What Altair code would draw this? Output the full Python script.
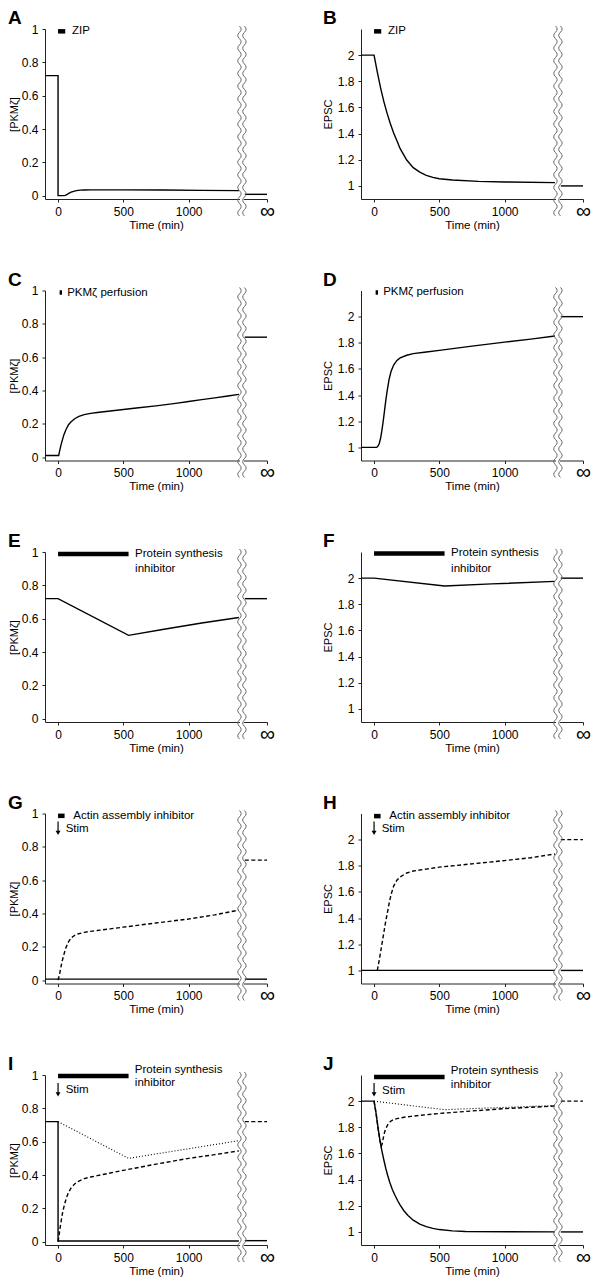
import altair as alt
import pandas as pd

FONT = "Liberation Sans"

# ---------------- shared values ----------------
X_DOMAIN = [-100, 1600]
X_TICKS = [0, 500, 1000, 1600]
INF_T = [1430, 1600]          # time span drawn for the "infinity" steady state
BREAK_T = [1389, 1427]        # positions of the two wavy break lines
GAP_T = [1393, 1423]          # axis gap between the break lines

PKM_DOMAIN = [-0.02, 1.0]
PKM_TICKS = [0, 0.2, 0.4, 0.6, 0.8, 1.0]
EPSC_DOMAIN = [0.9, 2.2]
EPSC_TICKS = [1.0, 1.2, 1.4, 1.6, 1.8, 2.0]

# ---------------- panel A ----------------
A_solid_t = [-100, 0, 0, 40, 55, 70, 85, 100, 120, 140, 170, 200, 250, 300, 500, 800, 1100, 1385]
A_solid_v = [0.72, 0.72, 0.0, 0.0, 0.002, 0.008, 0.015, 0.021, 0.026, 0.030, 0.033, 0.034, 0.035,
             0.035, 0.035, 0.034, 0.032, 0.030]
A_inf_solid = 0.008

# ---------------- panel B ----------------
B_solid_t = [-100, 0, 25, 50, 75, 100, 125, 150, 175, 200, 250, 300, 350, 400, 450, 500, 600, 800, 1000, 1385]
B_solid_v = [2.0, 2.0, 1.87, 1.75, 1.645, 1.555, 1.475, 1.405, 1.345, 1.285, 1.198, 1.14, 1.105, 1.08,
             1.065, 1.055, 1.045, 1.035, 1.03, 1.025]
B_inf_solid = 1.0

# ---------------- panel C ----------------
C_solid_t = [-100, 5, 10, 20, 30, 45, 60, 80, 100, 130, 160, 200, 250, 300, 400, 500, 600, 750, 900,
             1000, 1100, 1200, 1300, 1385]
C_solid_v = [0.01, 0.01, 0.03, 0.065, 0.095, 0.135, 0.165, 0.195, 0.213, 0.232, 0.245, 0.255, 0.263,
             0.268, 0.277, 0.286, 0.295, 0.308, 0.323, 0.334, 0.345, 0.356, 0.367, 0.377]
C_inf_solid = 0.72

# ---------------- panel D ----------------
D_solid_t = [-100, 20, 30, 40, 50, 60, 70, 80, 90, 100, 115, 130, 150, 175, 200, 250, 300, 400, 500,
             750, 1000, 1200, 1385]
D_solid_v = [1.0, 1.0, 1.01, 1.03, 1.07, 1.13, 1.2, 1.28, 1.36, 1.43, 1.52, 1.58, 1.63, 1.665, 1.685,
             1.705, 1.717, 1.73, 1.742, 1.775, 1.805, 1.828, 1.852]
D_inf_solid = 2.0

# ---------------- panel E ----------------
E_solid_t = [-100, 0, 540, 800, 1100, 1385]
E_solid_v = [0.72, 0.72, 0.50, 0.535, 0.574, 0.607]
E_inf_solid = 0.72

# ---------------- panel F ----------------
F_solid_t = [-100, 0, 540, 900, 1385]
F_solid_v = [2.0, 2.0, 1.94, 1.956, 1.975]
F_inf_solid = 2.0

# ---------------- panel G ----------------
G_solid_t = [-100, 1385]
G_solid_v = [0.006, 0.006]
G_dash_t = [0, 10, 20, 30, 45, 60, 80, 100, 125, 150, 200, 250, 300, 400, 500, 750, 1000, 1200, 1385]
G_dash_v = [0.0, 0.03, 0.07, 0.11, 0.155, 0.195, 0.23, 0.253, 0.268, 0.277, 0.287, 0.293, 0.298,
            0.308, 0.318, 0.343, 0.367, 0.392, 0.42]
G_inf_solid = 0.006
G_inf_dash = 0.72

# ---------------- panel H ----------------
H_solid_t = [-100, 1385]
H_solid_v = [1.0, 1.0]
H_dash_t = [25, 40, 50, 60, 75, 90, 100, 115, 130, 150, 175, 200, 250, 300, 400, 500, 750, 1000, 1200, 1385]
H_dash_v = [1.0, 1.08, 1.14, 1.2, 1.29, 1.38, 1.43, 1.51, 1.58, 1.645, 1.69, 1.715, 1.745, 1.76, 1.775,
            1.79, 1.815, 1.84, 1.862, 1.89]
H_inf_solid = 1.0
H_inf_dash = 2.0

# ---------------- panel I ----------------
I_solid_t = [-100, 0, 0, 1385]
I_solid_v = [0.72, 0.72, 0.004, 0.004]
I_dash_t = [0, 8, 15, 25, 35, 50, 65, 80, 100, 125, 150, 200, 250, 300, 400, 500, 750, 1000, 1200, 1385]
I_dash_v = [0.0, 0.04, 0.08, 0.13, 0.175, 0.225, 0.265, 0.295, 0.322, 0.345, 0.36, 0.378, 0.388, 0.396,
            0.412, 0.428, 0.465, 0.5, 0.522, 0.545]
I_dot_t = [0, 540, 1385]
I_dot_v = [0.72, 0.50, 0.606]
I_inf_solid = 0.006
I_inf_dash = 0.72

# ---------------- panel J ----------------
J_solid_t = [-100, 0, 15, 30, 45, 60, 75, 90, 105, 120, 140, 160, 180, 200, 230, 260, 300, 350, 400, 450,
             500, 600, 700, 1385]
J_solid_v = [2.0, 2.0, 1.91, 1.8, 1.7, 1.62, 1.55, 1.485, 1.43, 1.38, 1.325, 1.28, 1.24, 1.205, 1.16,
             1.125, 1.09, 1.06, 1.04, 1.027, 1.018, 1.008, 1.003, 1.0]
J_dash_t = [0, 15, 30, 45, 55, 62, 70, 80, 90, 105, 125, 150, 183, 230, 284, 400, 500, 750, 1000, 1200, 1385]
J_dash_v = [2.0, 1.91, 1.8, 1.7, 1.655, 1.672, 1.715, 1.76, 1.79, 1.82, 1.845, 1.86, 1.868, 1.877, 1.884,
            1.896, 1.906, 1.925, 1.943, 1.953, 1.963]
J_dot_t = [0, 540, 1385]
J_dot_v = [2.0, 1.935, 1.967]
J_inf_solid = 1.0
J_inf_dash = 2.0

# ---------------- annotations (data units) ----------------
# treatment bars: (t_start, t_end, level)
A_bar = (0, 55, 0.986)
B_bar = (0, 55, 2.182)
C_bar = (12, 30, 0.988)
D_bar = (12, 30, 2.185)
E_bar = (0, 540, 0.988)
F_bar = (0, 540, 2.189)
G_bar = (0, 50, 0.986)
H_bar = (0, 50, 2.18)
I_bar = (0, 540, 0.994)
J_bar = (0, 540, 2.185)

# text labels: (text, t, level)
A_text = [("ZIP", 107, 0.986)]
B_text = [("ZIP", 107, 2.182)]
C_text = [("PKMζ perfusion", 70, 0.988)]
D_text = [("PKMζ perfusion", 70, 2.185)]
E_text = [("Protein synthesis", 590, 0.986), ("inhibitor", 590, 0.898)]
F_text = [("Protein synthesis", 590, 2.189), ("inhibitor", 590, 2.072)]
G_text = [("Actin assembly inhibitor", 117, 0.986), ("Stim", 58, 0.906)]
H_text = [("Actin assembly inhibitor", 117, 2.18), ("Stim", 58, 2.078)]
I_text = [("Protein synthesis", 588, 1.03), ("inhibitor", 588, 0.95), ("Stim", 58, 0.912)]
J_text = [("Protein synthesis", 588, 2.23), ("inhibitor", 588, 2.124), ("Stim", 61, 2.078)]

# stimulus arrows: (t, shaft_top, shaft_bottom, head)
PKM_ARROW = (0, 0.952, 0.888, 0.884)
EPSC_ARROW = (0, 2.139, 2.055, 2.051)

# break decoration levels (data units): wave centre, axis-gap band
PKM_WAVE_C = 0.448
EPSC_WAVE_C = 1.497
PKM_GAP = (-0.045, -0.004)
EPSC_GAP = (0.868, 0.925)

# panel letters: (t, level)
LEFT_LETTER_T = -383
RIGHT_LETTER_T = -391
PKM_LETTER_V = 1.03
EPSC_LETTER_V = 2.238


def wave_path(n_half=30, amp=0.036):
    h = 2.0 / n_half
    parts = ["M0,-1"]
    for k in range(n_half):
        y0 = -1 + k * h
        cx = amp if k % 2 == 0 else -amp
        parts.append(f"Q{cx:.4f},{y0 + h / 2:.4f} 0,{y0 + h:.4f}")
    return " ".join(parts)


WAVE = wave_path()
W, H = 222, 170


def panel(letter, kind, lines, bar, texts, arrow, right):
    if kind == "pkm":
        dom, ticks, ytitle = PKM_DOMAIN, PKM_TICKS, "[PKMζ]"
        wave_c, gap, letter_v, arr = PKM_WAVE_C, PKM_GAP, PKM_LETTER_V, PKM_ARROW
        title_x = -31
    else:
        dom, ticks, ytitle = EPSC_DOMAIN, EPSC_TICKS, "EPSC"
        wave_c, gap, letter_v, arr = EPSC_WAVE_C, EPSC_GAP, EPSC_LETTER_V, EPSC_ARROW
        title_x = -33
    letter_t = RIGHT_LETTER_T if right else LEFT_LETTER_T

    xs = alt.Scale(domain=X_DOMAIN, nice=False, zero=False)
    ys = alt.Scale(domain=dom, nice=False, zero=False)
    xa = alt.Axis(values=X_TICKS, format="d",
                  labelExpr="datum.value == 1600 ? '∞' : datum.label",
                  labelFontSize={"condition": {"test": "datum.value == 1600", "value": 21}, "value": 12},
                  labelFlush=False, labelOverlap=False, labelBaseline="middle", labelPadding=9,
                  tickSize=3, title="Time (min)", titleY=26, titleBaseline="middle", titleFontSize=11.5)
    ya = alt.Axis(values=ticks, format="~g", tickSize=3, labelPadding=4, labelOverlap=False,
                  labelFontSize=12,
                  title=ytitle, titleX=title_x, titleBaseline="middle", titleFontSize=11)
    X = alt.X("t:Q", scale=xs, axis=xa)
    Y = alt.Y("v:Q", scale=ys, axis=ya)

    rows = []
    for seg, (style, ts, vs) in enumerate(lines):
        for i, (t, v) in enumerate(zip(ts, vs)):
            rows.append({"seg": seg, "i": i, "t": t, "v": v, "style": style})
    df = pd.DataFrame(rows)

    layers = []
    # white band hiding the x-axis between the break lines
    layers.append(alt.Chart(pd.DataFrame([{"t": GAP_T[0], "t2": GAP_T[1], "v": gap[0], "v2": gap[1]}]))
                  .mark_rect(color="white").encode(x=X, x2="t2:Q", y=Y, y2="v2:Q"))
    styles = {"solid": dict(strokeWidth=1.4),
              "dashed": dict(strokeWidth=1.4, strokeDash=[4, 2.5]),
              "dotted": dict(strokeWidth=1.1, strokeDash=[1, 2])}
    for style, props in styles.items():
        sub = df[df["style"] == style]
        if len(sub) == 0:
            continue
        layers.append(alt.Chart(sub).mark_line(color="black", **props)
                      .encode(x=X, y=Y, detail="seg:N", order="i:Q"))
    # break waves
    layers.append(alt.Chart(pd.DataFrame({"t": BREAK_T, "v": [wave_c, wave_c]}))
                  .mark_point(shape=WAVE, size=190 * 190, filled=False, stroke="#666",
                              strokeWidth=1, opacity=1)
                  .encode(x=X, y=Y))
    # treatment bar
    layers.append(alt.Chart(pd.DataFrame([{"t": bar[0], "t2": bar[1], "v": bar[2]}]))
                  .mark_rule(color="black", strokeWidth=4.5).encode(x=X, x2="t2:Q", y=Y))
    # texts
    layers.append(alt.Chart(pd.DataFrame([{"label": s, "t": t, "v": v} for s, t, v in texts]))
                  .mark_text(align="left", baseline="middle", fontSize=11.5, font=FONT, color="black")
                  .encode(x=X, y=Y, text="label:N"))
    if arrow:
        layers.append(alt.Chart(pd.DataFrame([{"t": arr[0], "v": arr[1], "v2": arr[2]}]))
                      .mark_rule(color="black", strokeWidth=1.2).encode(x=X, y=Y, y2="v2:Q"))
        layers.append(alt.Chart(pd.DataFrame([{"t": arr[0], "v": arr[3]}]))
                      .mark_point(shape="triangle-down", size=24, filled=True, color="black", opacity=1)
                      .encode(x=X, y=Y))
    # panel letter
    layers.append(alt.Chart(pd.DataFrame([{"label": letter, "t": letter_t, "v": letter_v}]))
                  .mark_text(align="left", baseline="alphabetic", fontSize=19, fontWeight="bold",
                             font=FONT, color="black")
                  .encode(x=X, y=Y, text="label:N"))
    return alt.layer(*layers).properties(width=W, height=H)


def seg(style, ts, vs):
    return (style, ts, vs)


def inf(style, v):
    return (style, INF_T, [v, v])


charts = [
    panel("A", "pkm", [seg("solid", A_solid_t, A_solid_v), inf("solid", A_inf_solid)], A_bar, A_text, False, False),
    panel("B", "epsc", [seg("solid", B_solid_t, B_solid_v), inf("solid", B_inf_solid)], B_bar, B_text, False, True),
    panel("C", "pkm", [seg("solid", C_solid_t, C_solid_v), inf("solid", C_inf_solid)], C_bar, C_text, False, False),
    panel("D", "epsc", [seg("solid", D_solid_t, D_solid_v), inf("solid", D_inf_solid)], D_bar, D_text, False, True),
    panel("E", "pkm", [seg("solid", E_solid_t, E_solid_v), inf("solid", E_inf_solid)], E_bar, E_text, False, False),
    panel("F", "epsc", [seg("solid", F_solid_t, F_solid_v), inf("solid", F_inf_solid)], F_bar, F_text, False, True),
    panel("G", "pkm", [seg("solid", G_solid_t, G_solid_v), inf("solid", G_inf_solid),
                       seg("dashed", G_dash_t, G_dash_v), inf("dashed", G_inf_dash)], G_bar, G_text, True, False),
    panel("H", "epsc", [seg("solid", H_solid_t, H_solid_v), inf("solid", H_inf_solid),
                        seg("dashed", H_dash_t, H_dash_v), inf("dashed", H_inf_dash)], H_bar, H_text, True, True),
    panel("I", "pkm", [seg("solid", I_solid_t, I_solid_v), inf("solid", I_inf_solid),
                       seg("dashed", I_dash_t, I_dash_v), inf("dashed", I_inf_dash),
                       seg("dotted", I_dot_t, I_dot_v)], I_bar, I_text, True, False),
    panel("J", "epsc", [seg("solid", J_solid_t, J_solid_v), inf("solid", J_inf_solid),
                        seg("dashed", J_dash_t, J_dash_v), inf("dashed", J_inf_dash),
                        seg("dotted", J_dot_t, J_dot_v)], J_bar, J_text, True, True),
]

chart = (
    alt.concat(*charts, columns=2, spacing={"row": 91.5, "column": 94}, bounds="flush", padding=0)
    .configure(font=FONT)
    .configure_view(strokeWidth=0)
    .configure_axis(grid=False, labelFont=FONT, titleFont=FONT, labelColor="black", titleColor="black",
                    domainColor="#222", tickColor="#222", titleFontWeight="normal", labelFontSize=12)
)

chart.save("out.html", embed_options={"renderer": "svg", "actions": False})
